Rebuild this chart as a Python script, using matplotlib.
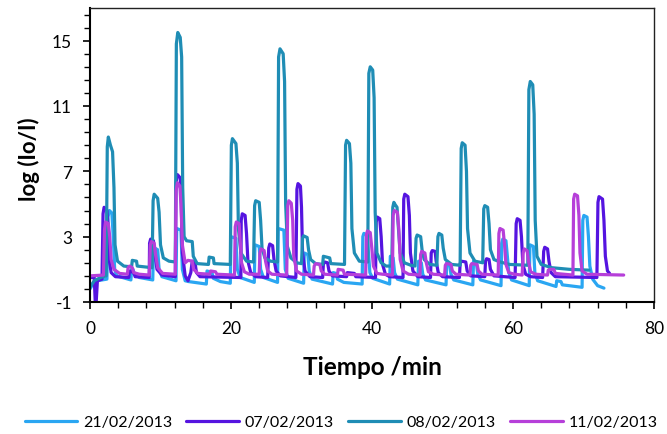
import numpy as np
import matplotlib
matplotlib.use("Agg")
import matplotlib.pyplot as plt

plt.rcParams["font.family"] = ["Lato", "DejaVu Sans"]
plt.rcParams["axes.unicode_minus"] = False

# run 21/02/2013
t_2102 = [0, 0.4, 1.0, 2.4,
          2.55, 2.75, 3.1, 3.3, 3.5, 3.8, 5.8,
          5.9, 6.1, 6.3, 7.0, 8.9,
          9.0, 9.2, 9.6, 9.8, 10.2, 12.2,
          12.3, 12.9, 13.1, 13.5, 14.0, 16.5,
          16.6, 17.3, 17.5, 18.5, 19.9,
          20.0, 20.7, 20.9, 21.3, 23.3,
          23.4, 24.0, 24.2, 24.6, 26.6,
          26.7, 27.5, 27.7, 28.1, 30.3,
          30.4, 30.9, 31.1, 31.5, 34.4,
          34.5, 34.9, 35.1, 36.0, 38.6,
          38.7, 38.85, 39.3, 39.5, 39.7, 40.1, 42.5,
          42.6, 43.0, 43.2, 43.6, 46.5,
          46.6, 47.0, 47.2, 47.6, 50.5,
          50.6, 51.0, 51.2, 51.6, 54.3,
          54.4, 54.8, 55.0, 55.4, 58.3,
          58.4, 58.55, 59.0, 59.2, 59.4, 59.8, 62.3,
          62.4, 62.9, 63.1, 63.5, 66.1,
          66.2, 66.8, 67.0, 69.8,
          69.9, 70.05, 70.5, 70.7, 70.9, 71.3, 72.0, 72.9]
v_2102 = [-0.2, 0.1, 0.3, 0.4,
          4.2, 4.6, 4.45, 3.0, 1.0, 0.6, 0.35,
          1.0, 1.0, 0.7, 0.5, 0.35,
          2.2, 2.3, 2.2, 1.0, 0.55, 0.3,
          3.5, 3.4, 1.0, 0.3, 0.25, 0.1,
          0.9, 0.8, 0.45, 0.25, 0.15,
          3.0, 2.9, 1.0, 0.5, 0.2,
          2.5, 2.4, 1.0, 0.5, 0.2,
          3.5, 3.4, 1.0, 0.45, 0.15,
          2.0, 1.9, 0.9, 0.4, 0.1,
          0.8, 0.75, 0.4, 0.2, 0.1,
          3.0, 3.2, 3.1, 2.0, 0.8, 0.45, 0.1,
          1.8, 1.7, 0.8, 0.4, 0.05,
          1.5, 1.4, 0.7, 0.35, 0.05,
          1.4, 1.3, 0.7, 0.35, 0.05,
          1.5, 1.4, 0.7, 0.35, 0.0,
          2.6, 2.85, 2.75, 1.8, 0.8, 0.35, 0.0,
          2.5, 2.4, 0.8, 0.3, -0.05,
          0.3, 0.25, 0.05, -0.1,
          4.0, 4.3, 4.2, 3.0, 1.2, 0.4, 0.0, -0.15]

# run 07/02/2013
t_0702 = [0, 0.6, 0.8, 1.05, 1.7,
          1.85, 2.0, 2.4, 2.6, 2.75, 3.0, 3.6, 5.5,
          5.6, 6.2, 6.4, 8.4,
          8.45, 8.6, 9.0, 9.2, 9.5, 10.2, 12.1,
          12.2, 12.4, 12.8, 12.95, 13.1, 13.5, 13.9, 14.3, 14.5, 14.9, 15.1, 15.6, 21.4,
          21.45, 21.6, 22.0, 22.2, 22.4, 22.8, 23.5, 25.2,
          25.35, 25.5, 25.9, 26.1, 26.4, 27.0, 29.2,
          29.35, 29.5, 29.85, 30.0, 30.15, 30.5, 31.2, 33.0,
          33.1, 33.3, 33.7, 33.9, 34.4, 36.4,
          36.5, 37.5, 37.7, 40.5,
          40.6, 40.75, 41.1, 41.3, 41.5, 41.9, 42.5, 44.4,
          44.5, 44.65, 45.1, 45.3, 45.45, 45.8, 46.5, 48.3,
          48.4, 48.55, 48.95, 49.1, 49.4, 50.0, 52.4,
          52.5, 52.65, 53.3, 53.5, 54.0, 56.0,
          56.1, 56.25, 56.6, 56.8, 57.3, 60.3,
          60.45, 60.6, 61.0, 61.2, 61.4, 61.8, 62.5, 64.2,
          64.35, 64.5, 64.9, 65.1, 65.4, 66.0, 71.9,
          72.05, 72.2, 72.7, 72.9, 73.1, 73.4, 73.7]
v_0702 = [0.5, 0.5, -1.6, 0.3, 0.4,
          4.4, 4.8, 4.6, 3.5, 1.5, 0.8, 0.55, 0.5,
          0.9, 0.8, 0.55, 0.5,
          2.6, 2.85, 2.75, 2.0, 1.0, 0.65, 0.55,
          6.3, 6.8, 6.6, 5.0, 2.0, 0.6, 0.3, 0.8, 1.5, 1.4, 0.8, 0.55, 0.5,
          4.0, 4.4, 4.3, 3.2, 1.5, 0.8, 0.55, 0.5,
          2.3, 2.55, 2.45, 1.6, 0.9, 0.6, 0.5,
          5.9, 6.25, 6.1, 4.8, 2.0, 0.9, 0.55, 0.5,
          1.3, 1.45, 1.4, 0.9, 0.6, 0.55,
          0.8, 0.75, 0.55, 0.5,
          3.9, 4.2, 4.1, 3.0, 1.3, 0.7, 0.55, 0.5,
          5.3, 5.6, 5.45, 4.3, 2.0, 0.9, 0.55, 0.5,
          2.0, 2.15, 2.1, 1.5, 0.8, 0.55, 0.5,
          1.35, 1.5, 1.45, 0.9, 0.6, 0.55,
          1.5, 1.65, 1.6, 1.0, 0.6, 0.5,
          3.8, 4.1, 4.0, 3.0, 1.3, 0.7, 0.55, 0.5,
          2.1, 2.35, 2.25, 1.5, 0.8, 0.55, 0.5,
          5.1, 5.45, 5.3, 4.0, 1.8, 0.9, 0.75]

# run 08/02/2013
t_0802 = [0, 0.6, 1.5, 2.3,
          2.45, 2.6, 2.9, 3.2, 3.4, 3.55, 3.9, 4.8, 5.9,
          6.0, 6.6, 6.7, 8.8,
          8.95, 9.1, 9.6, 9.8, 10.0, 10.4, 11.2, 12.1,
          12.25, 12.45, 12.8, 13.0, 13.15, 13.35, 13.7, 14.5, 14.65, 15.2, 16.8,
          16.9, 17.5, 17.6, 19.9,
          20.05, 20.2, 20.7, 20.9, 21.05, 21.4, 22.2, 23.2,
          23.35, 23.5, 24.0, 24.2, 24.4, 24.8, 25.6, 26.6,
          26.75, 26.95, 27.4, 27.6, 27.75, 28.0, 28.5, 29.3, 30.0,
          30.15, 30.3, 30.8, 31.0, 31.3, 32.0, 33.0,
          33.1, 34.0, 34.15, 36.1,
          36.25, 36.4, 36.8, 37.0, 37.15, 37.5, 38.2, 39.4,
          39.55, 39.75, 40.1, 40.3, 40.45, 40.7, 41.3, 42.0, 42.8,
          42.95, 43.1, 43.3, 43.55, 43.75, 44.0, 44.6, 45.5, 46.1,
          46.25, 46.4, 46.9, 47.1, 47.4, 48.2, 49.2,
          49.35, 49.5, 49.9, 50.1, 50.4, 51.3, 52.5,
          52.65, 52.8, 53.2, 53.4, 53.55, 53.9, 54.6, 55.7,
          55.85, 56.0, 56.4, 56.6, 56.8, 57.3, 58.2, 59.5, 62.1,
          62.25, 62.45, 62.8, 63.0, 63.15, 63.4, 64.0, 65.5, 68.0, 70.8]
v_0802 = [-0.1, 0.3, 0.5, 0.6,
          8.5, 9.1, 8.6, 8.2, 6.0, 2.5, 1.5, 1.2, 1.15,
          1.55, 1.5, 1.2, 1.1,
          5.2, 5.6, 5.35, 4.5, 2.5, 1.7, 1.5, 1.45,
          14.8, 15.5, 15.2, 14.0, 6.0, 3.0, 2.75, 2.7, 1.8, 1.35, 1.3,
          1.75, 1.7, 1.35, 1.3,
          8.6, 9.0, 8.7, 7.5, 3.5, 2.0, 1.5, 1.45,
          4.9, 5.2, 5.1, 4.0, 2.3, 1.7, 1.5, 1.45,
          14.0, 14.5, 14.2, 12.5, 5.0, 2.4, 1.7, 1.4, 1.35,
          2.9, 3.05, 2.95, 2.2, 1.6, 1.35, 1.3,
          1.8, 1.7, 1.35, 1.3,
          8.6, 8.9, 8.7, 7.5, 3.5, 2.0, 1.5, 1.45,
          13.0, 13.4, 13.2, 11.5, 4.5, 2.0, 1.4, 1.2, 1.2,
          4.8, 5.1, 4.95, 4.8, 3.5, 2.0, 1.4, 1.25, 1.2,
          2.9, 3.1, 3.0, 2.2, 1.6, 1.3, 1.25,
          3.0, 3.2, 3.1, 2.3, 1.6, 1.3, 1.25,
          8.4, 8.75, 8.6, 7.0, 3.5, 2.0, 1.5, 1.4,
          4.7, 4.9, 4.8, 3.8, 2.2, 1.6, 1.45, 1.3, 1.25,
          12.0, 12.5, 12.3, 10.5, 4.0, 1.8, 1.3, 1.1, 1.0, 0.95]

# run 11/02/2013
t_1102 = [0, 1.9,
          2.05, 2.2, 2.6, 2.8, 3.0, 3.4, 4.2, 5.3,
          5.4, 5.6, 6.0, 6.2, 7.0, 8.4,
          8.55, 8.7, 9.1, 9.3, 9.6, 10.3, 12.1,
          12.2, 12.4, 12.75, 12.9, 13.1, 13.5, 13.9, 14.5, 14.7, 15.3, 17.0,
          17.1, 17.8, 18.0, 20.5,
          20.6, 20.75, 21.15, 21.3, 21.5, 21.9, 22.6, 24.0,
          24.1, 24.25, 24.7, 24.9, 25.2, 25.8, 27.9,
          28.05, 28.2, 28.55, 28.75, 28.9, 29.3, 30.0, 31.7,
          31.8, 32.0, 32.6, 32.8, 33.3, 35.1,
          35.2, 35.9, 36.1, 39.1,
          39.2, 39.35, 39.75, 39.95, 40.2, 40.7, 41.5, 42.9,
          43.0, 43.15, 43.6, 43.8, 44.0, 44.4, 45.2, 46.8,
          46.9, 47.05, 47.5, 47.7, 48.0, 48.7, 50.3,
          50.4, 50.55, 51.2, 51.4, 51.9, 53.9,
          54.0, 54.15, 54.9, 55.1, 55.6, 57.9,
          58.0, 58.15, 58.6, 58.8, 59.0, 59.4, 60.2, 61.3,
          61.45, 61.6, 62.0, 62.2, 62.5, 63.2, 64.9,
          65.0, 65.2, 65.8, 66.0, 68.5,
          68.6, 68.75, 69.15, 69.35, 69.5, 69.8, 70.5, 75.7]
v_1102 = [0.6, 0.65,
          3.4, 3.9, 3.8, 3.0, 1.6, 1.0, 0.75, 0.7,
          1.1, 1.2, 1.1, 0.8, 0.7, 0.65,
          2.5, 2.7, 2.6, 1.9, 1.1, 0.75, 0.7,
          5.8, 6.3, 6.1, 5.0, 2.5, 1.4, 1.55, 1.5, 1.0, 0.75, 0.7,
          0.9, 0.85, 0.7, 0.65,
          3.6, 3.9, 3.8, 2.8, 1.4, 0.85, 0.7, 0.7,
          2.0, 2.25, 2.15, 1.5, 0.9, 0.7, 0.65,
          4.9, 5.2, 5.05, 4.0, 1.8, 0.9, 0.7, 0.65,
          1.2, 1.35, 1.3, 0.9, 0.7, 0.65,
          1.0, 0.95, 0.7, 0.65,
          3.1, 3.35, 3.25, 2.4, 1.2, 0.75, 0.7, 0.65,
          4.3, 4.6, 4.5, 3.5, 1.6, 0.9, 0.7, 0.65,
          1.9, 2.1, 2.0, 1.4, 0.85, 0.7, 0.65,
          1.25, 1.35, 1.3, 0.9, 0.7, 0.65,
          1.25, 1.35, 1.3, 0.9, 0.7, 0.65,
          3.2, 3.5, 3.4, 2.5, 1.3, 0.8, 0.7, 0.65,
          2.0, 2.25, 2.15, 1.5, 0.85, 0.7, 0.65,
          0.95, 1.0, 1.0, 0.75, 0.65,
          5.3, 5.6, 5.5, 4.3, 2.0, 0.9, 0.7, 0.65]

runs = [
    ("21/02/2013", t_2102, v_2102, "#2aa6f2"),
    ("07/02/2013", t_0702, v_0702, "#5514e0"),
    ("08/02/2013", t_0802, v_0802, "#1f8db5"),
    ("11/02/2013", t_1102, v_1102, "#b63fd9"),
]

fig = plt.figure(figsize=(6.67, 4.35), dpi=100)
ax = fig.add_axes([90 / 667, 1 - 303 / 435, 564 / 667, 294 / 435])

for label, t, v, color in runs:
    ax.plot(t, v, color=color, lw=2.3, label=label,
            solid_joinstyle="round", solid_capstyle="round")

ax.set_xlim(0, 80)
ax.set_ylim(-1, 17)
ax.set_xticks([0, 20, 40, 60, 80])
ax.set_xticks(np.arange(0, 81, 4), minor=True)
ax.set_yticks([-1, 3, 7, 11, 15])
ax.set_yticks(np.arange(-1, 17, 0.8), minor=True)
ax.tick_params(which="both", direction="out", color="black", labelsize=12.5)
ax.tick_params(which="major", length=5, width=1.2)
ax.tick_params(which="minor", length=4, width=1.0)
ax.tick_params(axis="x", pad=8)
ax.tick_params(axis="y", pad=8)

for side in ["left", "bottom"]:
    ax.spines[side].set_linewidth(1.5)
for side in ["top", "right"]:
    ax.spines[side].set_linewidth(1.0)
    ax.spines[side].set_color("#222222")

fig.text(372 / 667, 1 - 368 / 435, "Tiempo /min", ha="center", va="center",
         fontsize=17.5, fontweight="bold")
fig.text(29 / 667, 1 - 159 / 435, "log (Io/I)", ha="center", va="center",
         rotation=90, fontsize=16, fontweight="bold")

handles, labels = ax.get_legend_handles_labels()
fig.legend(handles, labels, loc="center", bbox_to_anchor=(341 / 667, 1 - 423 / 435),
           ncol=4, frameon=False, fontsize=11.5, handlelength=3.3,
           handletextpad=0.35, columnspacing=0.9)

fig.savefig("out.png", dpi=100)
